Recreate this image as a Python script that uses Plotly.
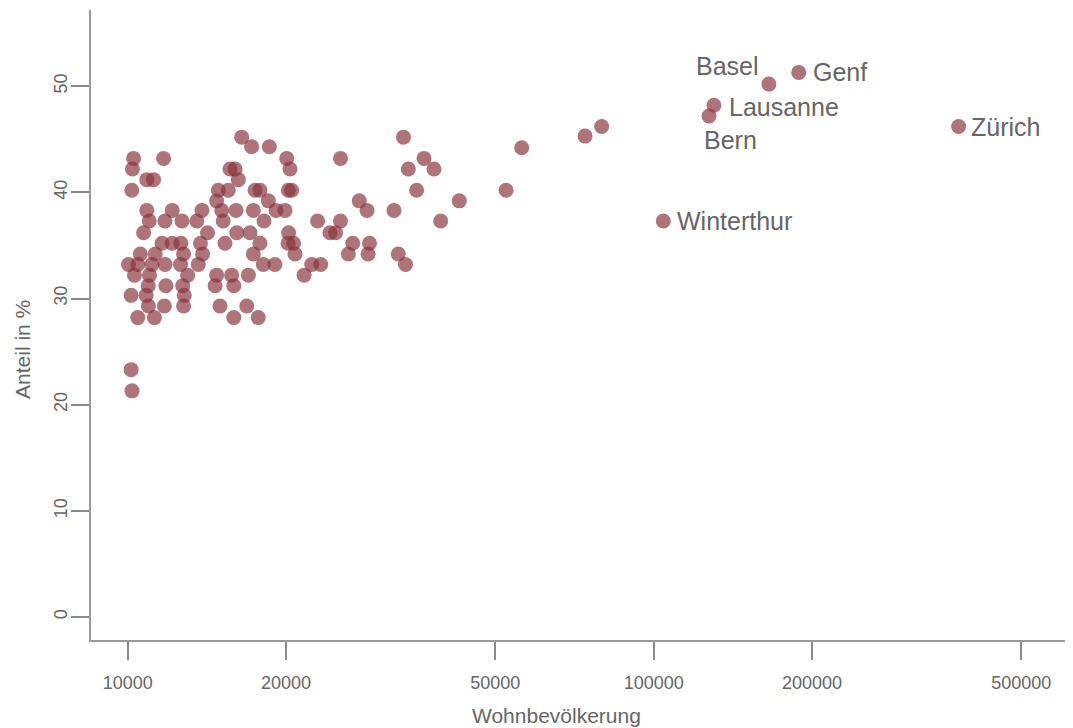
import numpy as np
import plotly.graph_objects as go

# Gemeinden (ohne Beschriftung): Wohnbevölkerung und Anteil in %
population = [
    16470, 33440, 74040, 79630,
    17200, 18590, 56110,
    10260, 11700, 20060, 25380, 36590,
    10210, 15650, 16000, 20350, 34160, 38220,
    10870, 11195, 16230,
    10180, 14870, 15530, 17460, 17840, 20200, 20500, 35430, 52400,
    14760, 18510, 27560, 42700,
    10870, 12150, 13840, 15090, 16070, 17330, 19140, 19910, 28510, 32080,
    10990, 11770, 12680, 13530, 15190, 18160, 22960, 25380, 39360,
    10720, 14180, 16120, 17080, 20220, 24240, 24840,
    11620, 12150, 12620, 13750, 15310, 17840, 20180, 20670, 26780, 28820,
    10570, 11280, 12770, 13880, 17330, 20800, 26270, 28640, 32690,
    10035, 10450, 11120, 11780, 12600, 13620, 18100, 19050, 22380, 23280, 33740,
    10300, 11000, 13000, 14760, 15760, 16960, 21640,
    10940, 11820, 12720, 14660, 15910,
    10150, 10840, 12810,
    10950, 11740, 12770, 14980, 16840,
    10450, 11240, 15910, 17710,
    10150,
    10190,
]
share = [
    45.2, 45.2, 45.3, 46.2,
    44.3, 44.3, 44.2,
    43.2, 43.2, 43.2, 43.2, 43.2,
    42.2, 42.2, 42.2, 42.2, 42.2, 42.2,
    41.2, 41.2, 41.2,
    40.2, 40.2, 40.2, 40.2, 40.2, 40.2, 40.2, 40.2, 40.2,
    39.2, 39.2, 39.2, 39.2,
    38.3, 38.3, 38.3, 38.3, 38.3, 38.3, 38.3, 38.3, 38.3, 38.3,
    37.3, 37.3, 37.3, 37.3, 37.3, 37.3, 37.3, 37.3, 37.3,
    36.2, 36.2, 36.2, 36.2, 36.2, 36.2, 36.2,
    35.2, 35.2, 35.2, 35.2, 35.2, 35.2, 35.2, 35.2, 35.2, 35.2,
    34.2, 34.2, 34.2, 34.2, 34.2, 34.2, 34.2, 34.2, 34.2,
    33.2, 33.2, 33.2, 33.2, 33.2, 33.2, 33.2, 33.2, 33.2, 33.2, 33.2,
    32.2, 32.2, 32.2, 32.2, 32.2, 32.2, 32.2,
    31.2, 31.2, 31.2, 31.2, 31.2,
    30.3, 30.3, 30.3,
    29.3, 29.3, 29.3, 29.3, 29.3,
    28.2, 28.2, 28.2, 28.2,
    23.3,
    21.3,
]

# Beschriftete Städte
city_names = ["Zürich", "Genf", "Basel", "Lausanne", "Bern", "Winterthur"]
city_population = [380000, 188700, 165600, 130200, 127400, 104300]
city_share = [46.2, 51.3, 50.2, 48.2, 47.2, 37.3]

x_tick_values = [10000, 20000, 50000, 100000, 200000, 500000]
x_tick_labels = ["10000", "20000", "50000", "100000", "200000", "500000"]
y_tick_values = [0, 10, 20, 30, 40, 50]

MARKER_COLOR = "rgb(135,50,57)"
TEXT_COLOR = "#666666"
FONT = "Liberation Sans, Arial, sans-serif"

fig = go.Figure()
fig.add_trace(go.Scatter(
    x=population + city_population,
    y=share + city_share,
    mode="markers",
    marker=dict(size=15, color=MARKER_COLOR, opacity=0.68, line=dict(width=0)),
    hoverinfo="skip",
    showlegend=False,
))

label_pos = {
    "Zürich": dict(xanchor="left", yanchor="middle", xshift=10, yshift=0),
    "Genf": dict(xanchor="left", yanchor="middle", xshift=12, yshift=0),
    "Basel": dict(xanchor="right", yanchor="middle", xshift=-8, yshift=18),
    "Lausanne": dict(xanchor="left", yanchor="middle", xshift=13, yshift=-2),
    "Bern": dict(xanchor="left", yanchor="middle", xshift=-7, yshift=-24),
    "Winterthur": dict(xanchor="left", yanchor="middle", xshift=12, yshift=0),
}
for name, p, s in zip(city_names, city_population, city_share):
    fig.add_annotation(
        x=np.log10(p), y=s, xref="x", yref="y", text=name, showarrow=False,
        font=dict(family=FONT, size=25, color=TEXT_COLOR), **label_pos[name],
    )

# Achsentitel
fig.add_annotation(
    text="Wohnbevölkerung", xref="paper", yref="paper", x=0.4745, y=-0.1206,
    xanchor="center", yanchor="middle", showarrow=False,
    font=dict(family=FONT, size=21, color=TEXT_COLOR),
)
fig.add_annotation(
    text="Anteil in %", xref="paper", yref="paper", x=-0.0703, y=0.4619,
    xanchor="center", yanchor="middle", showarrow=False, textangle=-90,
    font=dict(family=FONT, size=21, color=TEXT_COLOR),
)

fig.update_xaxes(
    type="log", range=[3.9302, 5.7972],
    tickvals=x_tick_values, ticktext=x_tick_labels,
    showgrid=False, zeroline=False,
    showline=True, linecolor="#9a9a9a", linewidth=2,
    ticks="outside", ticklen=18, tickwidth=1.5, tickcolor="#8a8a8a",
    ticklabelstandoff=7,
    tickfont=dict(family=FONT, size=18, color=TEXT_COLOR),
)
fig.update_yaxes(
    range=[-2.17, 57.18],
    tickvals=y_tick_values, tickangle=-90,
    showgrid=False, zeroline=False,
    showline=True, linecolor="#9a9a9a", linewidth=1.5,
    ticks="outside", ticklen=18, tickwidth=1.5, tickcolor="#8a8a8a",
    ticklabelstandoff=-3,
    tickfont=dict(family=FONT, size=18, color=TEXT_COLOR),
)
# the page body adds an 8px margin, so the figure is sized to fit the window
fig.update_layout(
    width=1065, height=720,
    margin=dict(l=83, r=0, t=2, b=88),
    paper_bgcolor="white", plot_bgcolor="white",
    font=dict(family=FONT, color=TEXT_COLOR),
)

fig.write_html("out.html")
